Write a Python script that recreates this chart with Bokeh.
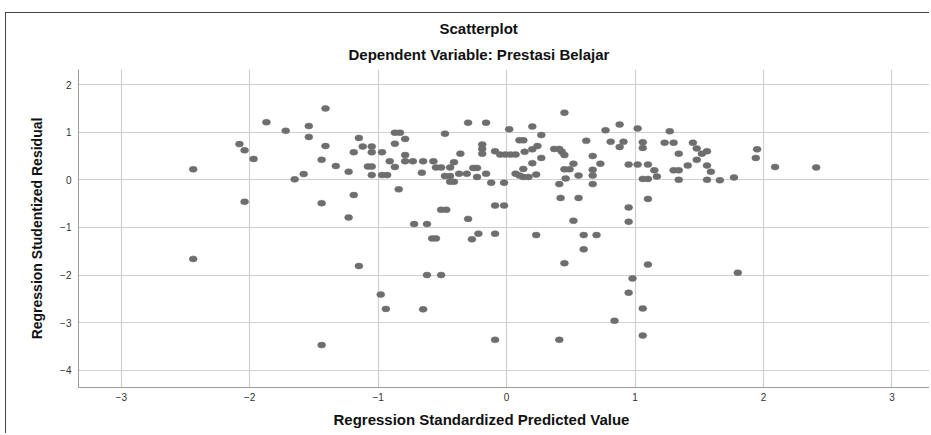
from bokeh.plotting import figure
from bokeh.models import FixedTicker, ColumnDataSource, Range1d, Title
from bokeh.embed import file_html
from bokeh.resources import INLINE

title_text = "Scatterplot"
subtitle_text = "Dependent Variable: Prestasi Belajar"
x_label = "Regression Standardized Predicted Value"
y_label = "Regression Studentized Residual"
x_ticks = [-3, -2, -1, 0, 1, 2, 3]
y_ticks = [-4, -3, -2, -1, 0, 1, 2]

pred = [-1.87, -1.72, -1.54, -1.54, -2.08, -2.04, -1.97, -1.44, -2.44, -1.58,
        -1.65, -2.04, -1.44, -2.44, -1.44, -1.41, -1.41, -1.33, -1.23, -1.15,
        -1.19, -1.12, -1.05, -1.05, -0.97, -1.08, -1.05, -1.05, -0.97, -0.93,
        -0.91, -0.87, -0.87, -0.87, -0.83, -0.79, -0.79, -0.79, -0.73, -0.65,
        -0.57, -0.66, -0.84, -1.19, -0.55, -0.51, -0.44, -0.41, -0.36, -0.48,
        -0.30, -0.16, -0.48, -0.44, -0.44, -0.41, -0.37, -0.31, -0.26, -0.23,
        -0.23, -0.16, -0.19, -0.19, -0.19, -0.09, -0.12, -0.51, -0.47, -0.09,
        -0.02, -1.23, -1.15, -0.98, -0.94, -0.72, -0.62, -0.58, -0.55, -0.62,
        -0.51, -0.65, -0.30, -0.22, -0.27, -0.09, -0.09, 0.45, 0.02, 0.20,
        0.27, 0.10, 0.13, -0.05, -0.01, 0.03, 0.07, 0.14, 0.20, 0.24,
        0.27, 0.20, 0.13, 0.07, 0.10, 0.13, 0.17, 0.23, -0.02, 0.37,
        0.41, 0.43, 0.45, 0.52, 0.45, 0.49, 0.46, 0.56, 0.41, 0.42,
        0.56, 0.62, 0.67, 0.73, 0.67, 0.67, 0.67, 0.77, 0.88, 0.81,
        0.91, 0.88, 1.02, 1.06, 1.06, 0.95, 1.02, 1.10, 1.15, 1.17,
        1.06, 1.10, 0.95, 1.10, 1.27, 1.23, 1.30, 1.34, 1.30, 1.34,
        1.34, 0.52, 0.95, 0.23, 0.60, 0.70, 0.60, 0.45, 1.10, 0.98,
        0.95, 1.06, 0.84, 0.41, 1.06, 1.45, 1.48, 1.52, 1.56, 1.48,
        1.41, 1.56, 1.59, 1.56, 1.66, 1.77, 1.95, 1.94, 2.09, 2.41,
        1.80]

resid = [1.21, 1.03, 1.13, 0.90, 0.75, 0.62, 0.44, 0.42, 0.22, 0.12,
         0.01, -0.46, -0.49, -1.66, -3.47, 1.50, 0.71, 0.29, 0.17, 0.88,
         0.58, 0.70, 0.70, 0.58, 0.58, 0.28, 0.28, 0.10, 0.10, 0.10,
         0.39, 0.27, 0.76, 0.99, 0.99, 0.86, 0.52, 0.39, 0.39, 0.39,
         0.39, 0.15, -0.20, -0.32, 0.26, 0.26, 0.26, 0.37, 0.55, 0.97,
         1.20, 1.20, 0.08, 0.08, -0.04, -0.04, 0.13, 0.13, 0.25, 0.25,
         0.06, 0.13, 0.74, 0.65, 0.55, 0.60, -0.06, -0.63, -0.63, -0.54,
         -0.54, -0.79, -1.81, -2.41, -2.71, -0.93, -0.93, -1.23, -1.23, -2.00,
         -2.00, -2.72, -0.82, -1.13, -1.25, -1.13, -3.36, 1.41, 1.06, 1.12,
         0.94, 0.83, 0.83, 0.53, 0.53, 0.53, 0.53, 0.59, 0.64, 0.71,
         0.46, 0.35, 0.23, 0.13, 0.09, 0.06, 0.06, 0.11, -0.06, 0.65,
         0.65, 0.59, 0.52, 0.34, 0.22, 0.22, 0.03, 0.09, -0.09, -0.38,
         -0.38, 0.82, 0.50, 0.34, 0.21, 0.09, -0.09, 1.04, 1.16, 0.80,
         0.80, 0.69, 1.08, 0.79, 0.67, 0.32, 0.32, 0.32, 0.20, 0.07,
         0.02, 0.02, -0.58, -0.40, 1.02, 0.78, 0.78, 0.55, 0.20, 0.20,
         0.00, -0.86, -0.88, -1.16, -1.16, -1.16, -1.46, -1.75, -1.78, -2.07,
         -2.37, -2.70, -2.96, -3.36, -3.27, 0.78, 0.66, 0.55, 0.60, 0.42,
         0.30, 0.30, 0.17, 0.00, -0.01, 0.05, 0.64, 0.46, 0.27, 0.26,
         -1.95]

W, H = 924, 421
p = figure(width=W, height=H, output_backend="svg", toolbar_location=None,
           x_range=Range1d(-3.333, 3.300), y_range=Range1d(-4.361, 2.317),
           min_border_left=72, min_border_right=0, min_border_top=56,
           min_border_bottom=47)
p.styles = {"margin-left": "5px", "margin-top": "12px",
            "border-left": "1px solid #444444", "border-top": "1px solid #444444"}
p.outline_line_color = None
p.title.visible = False

for ax in (p.xaxis[0], p.yaxis[0]):
    ax.axis_line_color = "#9a9a9a"
    ax.axis_line_width = 1
    ax.major_tick_out = 0
    ax.major_tick_in = 0
    ax.minor_tick_out = 0
    ax.minor_tick_in = 0
    ax.major_label_text_font = "Liberation Sans"
    ax.major_label_text_font_size = "10px"
    ax.major_label_text_color = "#333333"
    ax.axis_label_text_font = "Liberation Sans"
    ax.axis_label_text_font_style = "bold"
    ax.axis_label_text_color = "#111111"
p.xaxis[0].ticker = FixedTicker(ticks=x_ticks)
p.yaxis[0].ticker = FixedTicker(ticks=y_ticks)
p.xaxis[0].major_label_standoff = 5
p.yaxis[0].major_label_standoff = 7
p.yaxis[0].axis_label = y_label
p.yaxis[0].axis_label_text_font_size = "14px"
p.yaxis[0].axis_label_standoff = 12

p.xgrid[0].ticker = FixedTicker(ticks=x_ticks)
p.ygrid[0].ticker = FixedTicker(ticks=y_ticks)
p.xgrid.grid_line_color = "#cfcfcf"
p.ygrid.grid_line_color = "#cfcfcf"
p.xgrid.grid_line_width = 1.2
p.ygrid.grid_line_width = 1.2

src = ColumnDataSource(dict(x=pred, y=resid))
p.ellipse(x="x", y="y", width=8, height=6, width_units="screen",
          height_units="screen", source=src, fill_color="#6e6e6e",
          line_color="#6e6e6e", line_width=0.5)

def make_title(text, offset, standoff, lh=1.0):
    return Title(text=text, align="left", offset=offset, standoff=standoff,
                 text_font="Liberation Sans", text_font_style="bold",
                 text_font_size="15px", text_color="#111111",
                 text_line_height=lh)

p.add_layout(make_title(subtitle_text, 270, 14, 0.8), "above")
p.add_layout(make_title(title_text, 361, 0, 0.8), "above")
p.add_layout(make_title(x_label, 255, 11), "below")

open("out.html", "w").write(file_html(p, INLINE))
